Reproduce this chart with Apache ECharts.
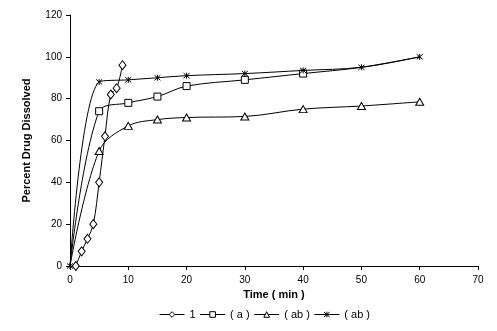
<!DOCTYPE html>
<html>
<head>
<meta charset="utf-8">
<script src="https://cdn.jsdelivr.net/npm/echarts@6/dist/echarts.min.js"></script>
<style>html,body{margin:0;padding:0;background:#fff;}#c{width:497px;height:331px;}</style>
</head>
<body>
<div id="c"></div>
<script>
var seriesNames = ['1', '( a )', '( ab )', '( ab ) '];
var legendLabels = ['1', '( a )', '( ab )', '( ab )'];
var timeDiamond = [1, 2, 3, 4, 5, 6, 7, 8, 9];
var valDiamond = [0, 7, 13, 20, 40, 62, 82, 85, 96];
var timeSquare = [0, 5, 10, 15, 20, 30, 40, 50, 60];
var valSquare = [0, 74, 78, 81, 86, 89, 92, 95, 100];
var timeTriangle = [0, 5, 10, 15, 20, 30, 40, 50, 60];
var valTriangle = [0, 55, 67, 70, 71, 71.5, 75, 76.5, 78.5];
var timeStar = [0, 5, 10, 15, 20, 30, 40, 50, 60];
var valStar = [0, 88, 89, 90, 91, 92, 93.5, 95, 100];
var xTicks = [0, 10, 20, 30, 40, 50, 60, 70];
var yTicks = [0, 20, 40, 60, 80, 100, 120];

// indices of points whose marker is not shown in the reference
function pairs(t, v, hidden) {
  return t.map(function (x, i) {
    var d = { value: [x, v[i]] };
    if (hidden.indexOf(i) >= 0) d.symbol = 'none';
    return d;
  });
}
var diamondPath = 'path://M0,-4L3,0L0,4L-3,0Z';
var squarePath = 'path://M-3,-3L3,-3L3,3L-3,3Z';
var trianglePath = 'path://M0,-3L3.5,3L-3.5,3Z';
var starPath = 'path://M-3,-3L3,3M3,-3L-3,3M0,-3.5L0,3.5';
var font = 'Liberation Sans, Arial, sans-serif';
var chart = echarts.init(document.getElementById('c'));
function mk(name, data, symbol, size, z) {
  return {
    type: 'line', name: name, data: data, symbol: symbol, symbolSize: size,
    smooth: 0.35, showSymbol: true, z: z,
    lineStyle: { color: '#000', width: 1, type: 'solid' },
    itemStyle: { color: '#fff', borderColor: '#000', borderWidth: 1 }
  };
}
chart.setOption({
  animation: false,
  backgroundColor: '#fff',
  grid: { left: 70, right: 19, top: 15, bottom: 65, containLabel: false },
  xAxis: {
    type: 'value', min: xTicks[0], max: xTicks[xTicks.length - 1], interval: 10,
    name: 'Time ( min )', nameLocation: 'middle', nameGap: 21,
    nameTextStyle: { fontFamily: font, fontSize: 11, fontWeight: 'bold', color: '#000' },
    axisLine: { lineStyle: { color: '#000', width: 1 } },
    axisTick: { show: true, length: 4, lineStyle: { color: '#000' } },
    axisLabel: { fontFamily: font, fontSize: 10, color: '#000', margin: 9 },
    splitLine: { show: false }
  },
  yAxis: {
    type: 'value', min: yTicks[0], max: yTicks[yTicks.length - 1], interval: 20,
    name: 'Percent Drug Dissolved', nameLocation: 'middle', nameGap: 38,
    nameTextStyle: { fontFamily: font, fontSize: 11, fontWeight: 'bold', color: '#000' },
    axisLine: { show: true, lineStyle: { color: '#000', width: 1 } },
    axisTick: { show: true, length: 4, lineStyle: { color: '#000' } },
    axisLabel: { fontFamily: font, fontSize: 10, color: '#000', margin: 8 },
    splitLine: { show: false }
  },
  legend: {
    left: 154, top: 304, itemWidth: 25, itemHeight: 7, itemGap: 4,
    itemStyle: { color: '#fff', borderColor: '#000', borderWidth: 1 },
    lineStyle: { color: '#000', width: 1 },
    textStyle: { fontFamily: font, fontSize: 11, color: '#000' },
    formatter: function (n) { return legendLabels[seriesNames.indexOf(n)]; },
    data: seriesNames.map(function (n) { return { name: n }; })
  },
  series: [
    mk(seriesNames[0], pairs(timeDiamond, valDiamond, []), diamondPath, [7, 9], 2),
    mk(seriesNames[1], pairs(timeSquare, valSquare, [0, 7, 8]), squarePath, 7, 2),
    mk(seriesNames[2], pairs(timeTriangle, valTriangle, [0]), trianglePath, [8, 7], 2),
    mk(seriesNames[3], pairs(timeStar, valStar, []), starPath, 6, 3)
  ]
});
</script>
</body>
</html>
